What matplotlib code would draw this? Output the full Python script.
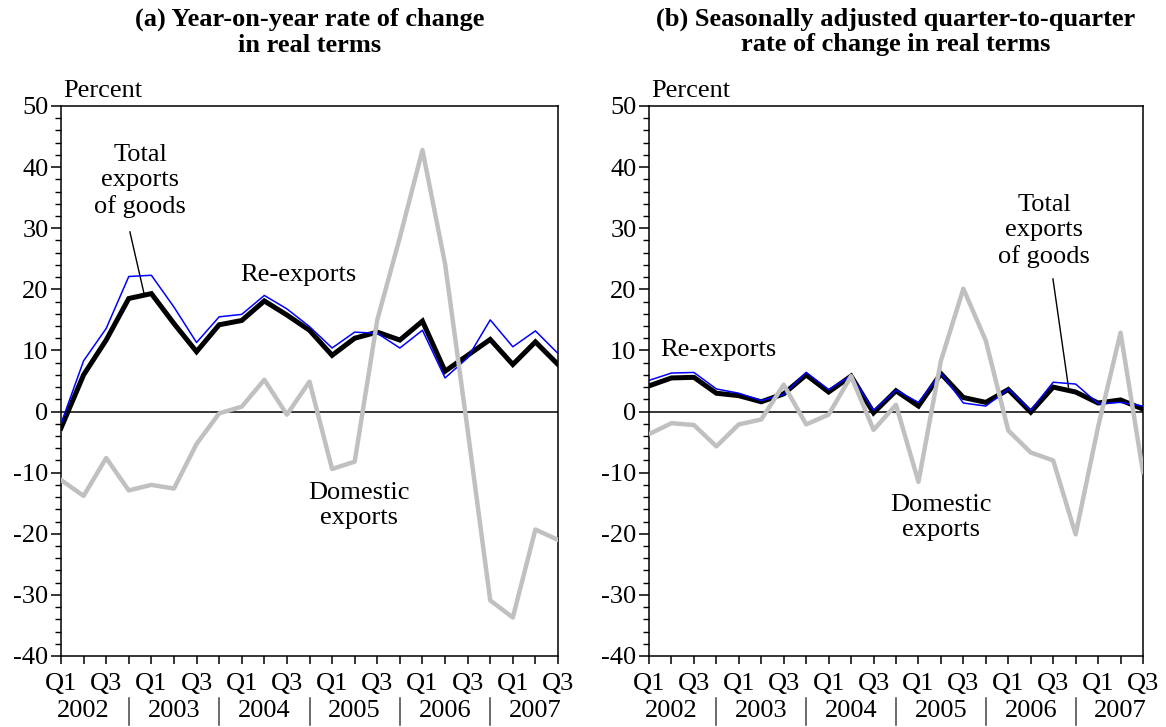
import matplotlib
matplotlib.use("Agg")
import matplotlib.pyplot as plt
from matplotlib.ticker import MultipleLocator, FuncFormatter
import matplotlib.transforms as mtransforms

plt.rcParams['font.family'] = ['Liberation Serif', 'DejaVu Serif']

quarters = ["Q1", "Q2", "Q3", "Q4"] * 5 + ["Q1", "Q2", "Q3"]
years = ["2002", "2003", "2004", "2005", "2006", "2007"]

# Panel (a): year-on-year rate of change in real terms (%)
total_a = [-2.7, 6.0, 11.7, 18.5, 19.3, 14.4, 9.8, 14.2, 14.9, 18.1, 15.8, 13.3,
           9.2, 12.0, 13.0, 11.7, 14.8, 6.6, 9.2, 11.8, 7.7, 11.4, 7.7]
reexp_a = [-2.0, 8.3, 13.6, 22.1, 22.3, 17.1, 11.3, 15.5, 15.9, 19.0, 16.8, 13.9,
           10.4, 13.0, 12.8, 10.4, 13.3, 5.5, 8.8, 15.0, 10.6, 13.2, 9.5]
domes_a = [-11.2, -13.8, -7.6, -12.9, -12.0, -12.6, -5.3, -0.3, 0.8, 5.2, -0.5, 4.9,
           -9.4, -8.2, 15.0, 28.5, 42.8, 24.2, -3.0, -30.9, -33.7, -19.3, -21.0]

# Panel (b): seasonally adjusted quarter-to-quarter rate of change (%)
total_b = [4.2, 5.5, 5.6, 3.0, 2.6, 1.6, 2.9, 6.0, 3.2, 5.8, -0.2, 3.4,
           0.9, 6.2, 2.3, 1.5, 3.6, -0.1, 4.0, 3.2, 1.4, 1.9, 0.4]
reexp_b = [5.1, 6.3, 6.4, 3.7, 3.0, 1.8, 2.8, 6.4, 3.6, 5.9, 0.2, 3.5,
           1.5, 6.3, 1.4, 0.9, 3.7, 0.2, 4.8, 4.5, 1.3, 1.5, 0.9]
domes_b = [-3.7, -1.9, -2.2, -5.7, -2.1, -1.3, 4.4, -2.1, -0.5, 5.8, -3.0, 1.1,
           -11.5, 8.3, 20.1, 11.6, -3.1, -6.7, -8.0, -20.1, -2.5, 12.9, -9.9]

FS = 19
fig = plt.figure(figsize=(11.66, 7.27), dpi=100)
W, H = 1166, 727
ax_a = fig.add_axes([61 / W, 1 - 656 / H, (558 - 61) / W, 550 / H])
ax_b = fig.add_axes([649 / W, 1 - 656 / H, (1143 - 649) / W, 550 / H])

def fmt(v, pos):
    return ("%d" % v).replace("\u2212", "-")

def setup(ax, total, reexp, domes, title):
    x = list(range(len(quarters)))
    ax.plot(x, total, color="black", lw=3.6, solid_joinstyle="miter", zorder=3)
    ax.plot(x, reexp, color="#0000ff", lw=1.1, zorder=4)
    ax.plot(x, domes, color="#c0c0c0", lw=3.2, zorder=5)
    ax.axhline(0, color="black", lw=1.1, zorder=2)
    ax.set_xlim(0, len(quarters) - 1)
    ax.set_ylim(-40, 50)
    ax.yaxis.set_major_locator(MultipleLocator(10))
    ax.yaxis.set_minor_locator(MultipleLocator(2))
    ax.yaxis.set_major_formatter(FuncFormatter(fmt))
    ax.set_xticks(x)
    ax.set_xticklabels([q if q in ("Q1", "Q3") else "" for q in quarters])
    ax.tick_params(axis="y", which="major", direction="out", length=7, width=1.1,
                   labelsize=FS, pad=2)
    ax.tick_params(axis="y", which="minor", direction="out", length=4, width=1.0)
    ax.tick_params(axis="x", which="major", direction="out", length=6, width=1.1,
                   labelsize=FS, pad=6)
    for s in ax.spines.values():
        s.set_linewidth(1.1)
    trans = mtransforms.blended_transform_factory(ax.transData, ax.transAxes)
    for k, yr in enumerate(years):
        ax.text(1 + 4 * k, -0.100, yr, transform=trans, ha="center", va="center",
                fontsize=FS)
    for k in range(5):
        ax.plot([3 + 4 * k, 3 + 4 * k], [-0.076, -0.125], transform=trans,
                color="#444444", lw=1.1, clip_on=False)
    ax.text(0.004, 1.008, "Percent", transform=ax.transAxes, ha="left",
            va="bottom", fontsize=FS)
    ax.text(0.5, 1.09, title, transform=ax.transAxes, ha="center", va="bottom",
            fontsize=FS, fontweight="bold", linespacing=1.13)

setup(ax_a, total_a, reexp_a, domes_a,
      "(a) Year-on-year rate of change\nin real terms")
setup(ax_b, total_b, reexp_b, domes_b,
      "(b) Seasonally adjusted quarter-to-quarter\nrate of change in real terms")

# Annotations panel (a)
ax_a.text(3.5, 37.8, "Total\nexports\nof goods", ha="center", va="center",
          fontsize=FS, linespacing=1.2)
ax_a.plot([3.05, 3.67], [29.4, 19.4], color="black", lw=1.0)
ax_a.text(10.5, 22.3, "Re-exports", ha="center", va="center", fontsize=FS)
ax_a.text(13.2, -15.4, "Domestic\nexports", ha="center", va="center",
          fontsize=FS, linespacing=1.2)

# Annotations panel (b)
ax_b.text(3.1, 10.0, "Re-exports", ha="center", va="center", fontsize=FS)
ax_b.text(17.6, 29.6, "Total\nexports\nof goods", ha="center", va="center",
          fontsize=FS, linespacing=1.2)
ax_b.plot([17.99, 18.68], [21.7, 4.0], color="black", lw=1.0)
ax_b.text(13.0, -17.3, "Domestic\nexports", ha="center", va="center",
          fontsize=FS, linespacing=1.2)

fig.savefig("out.png", dpi=100)
